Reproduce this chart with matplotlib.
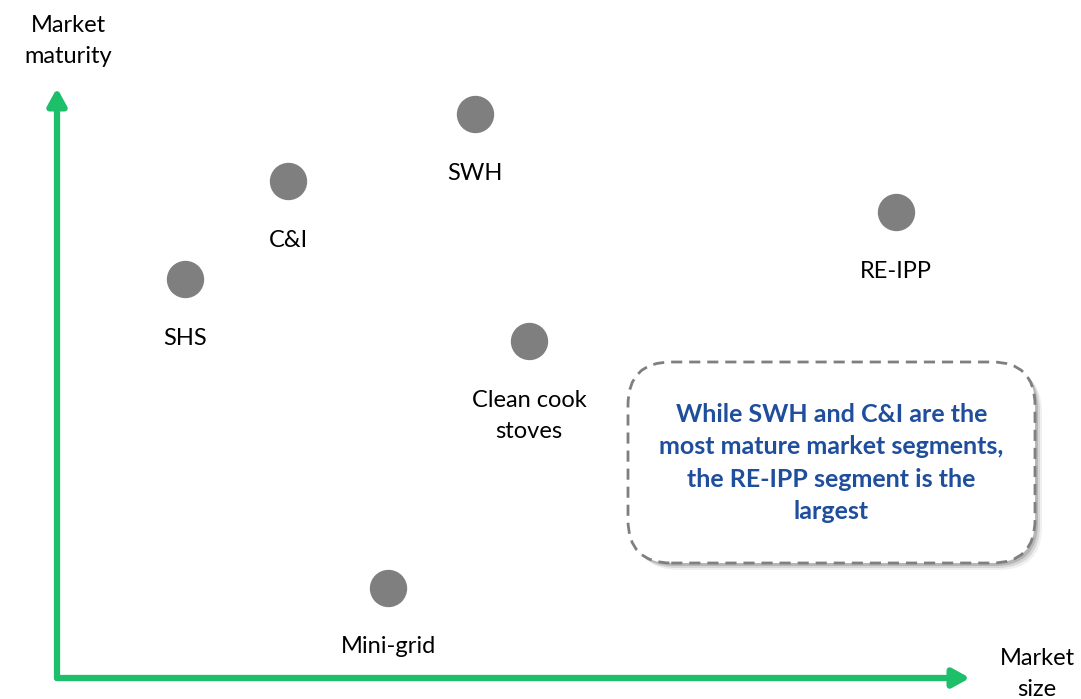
import matplotlib
matplotlib.use("Agg")
import matplotlib.pyplot as plt
from matplotlib.patches import FancyBboxPatch

plt.rcParams['font.family'] = ['Lato', 'DejaVu Sans']

# segments positioned by market size (x) and market maturity (y), 0-100 scale
segments = ["SWH", "C&I", "RE-IPP", "SHS", "Clean cook\nstoves", "Mini-grid"]
market_size = [45.8, 25.3, 91.9, 14.0, 51.7, 36.3]
market_maturity = [95.6, 84.2, 79.0, 67.6, 57.1, 15.3]

note = "While SWH and C&I are the\nmost mature market segments,\nthe RE-IPP segment is the\nlargest"

W, H = 1081, 699
fig = plt.figure(figsize=(W / 100, H / 100), dpi=100)

# axes origin sits at the corner of the two arrows
x0, y0, x1, y1 = 57, 678, 970, 88
ax = fig.add_axes([x0 / W, 1 - y0 / H, (x1 - x0) / W, (y0 - y1) / H])
ax.set_xlim(0, 100)
ax.set_ylim(0, 100)
ax.axis("off")

green = "#1dbf6b"
for end in [(100, 0), (0, 100)]:
    ax.annotate("", xy=end, xytext=(0, 0),
                arrowprops=dict(arrowstyle="-|>,head_length=1.0,head_width=0.55",
                                color=green, lw=4.5, shrinkA=0, shrinkB=0),
                annotation_clip=False)

ax.scatter(market_size, market_maturity, s=670, color="#7f7f7f", zorder=3)
for name, x, y in zip(segments, market_size, market_maturity):
    ax.annotate(name, (x, y), xytext=(0, -35), textcoords="offset points",
                ha="center", va="top", fontsize=17, color="#000000",
                linespacing=1.6)

fig.text(68 / W, 1 - 41 / H, "Market\nmaturity", ha="center", va="center",
         fontsize=17, linespacing=1.6)
fig.text(1037 / W, 1 - 674 / H, "Market\nsize", ha="center", va="center",
         fontsize=17, linespacing=1.6)

# callout box with a soft drop shadow
bx, by, bw, bh = 628, 362, 407, 201
for off, a in [(7, 0.06), (5, 0.10), (3, 0.15)]:
    shadow = FancyBboxPatch(((bx + off) / W, 1 - (by + bh + off) / H), bw / W, bh / H,
                            boxstyle="round,pad=0,rounding_size=0.04",
                            transform=fig.transFigure, facecolor="#000000",
                            edgecolor="none", alpha=a, mutation_aspect=W / H)
    fig.patches.append(shadow)
box = FancyBboxPatch((bx / W, 1 - (by + bh) / H), bw / W, bh / H,
                     boxstyle="round,pad=0,rounding_size=0.04",
                     transform=fig.transFigure, facecolor="white",
                     edgecolor="#7f7f7f", lw=2, linestyle=(0, (4, 2.5)),
                     mutation_aspect=W / H)
fig.patches.append(box)
fig.text((bx + bw / 2) / W, 1 - 463 / H, note, ha="center", va="center",
         fontsize=18, fontweight="bold", color="#1f4e9c", linespacing=1.48)

fig.savefig("out.png", dpi=100)
